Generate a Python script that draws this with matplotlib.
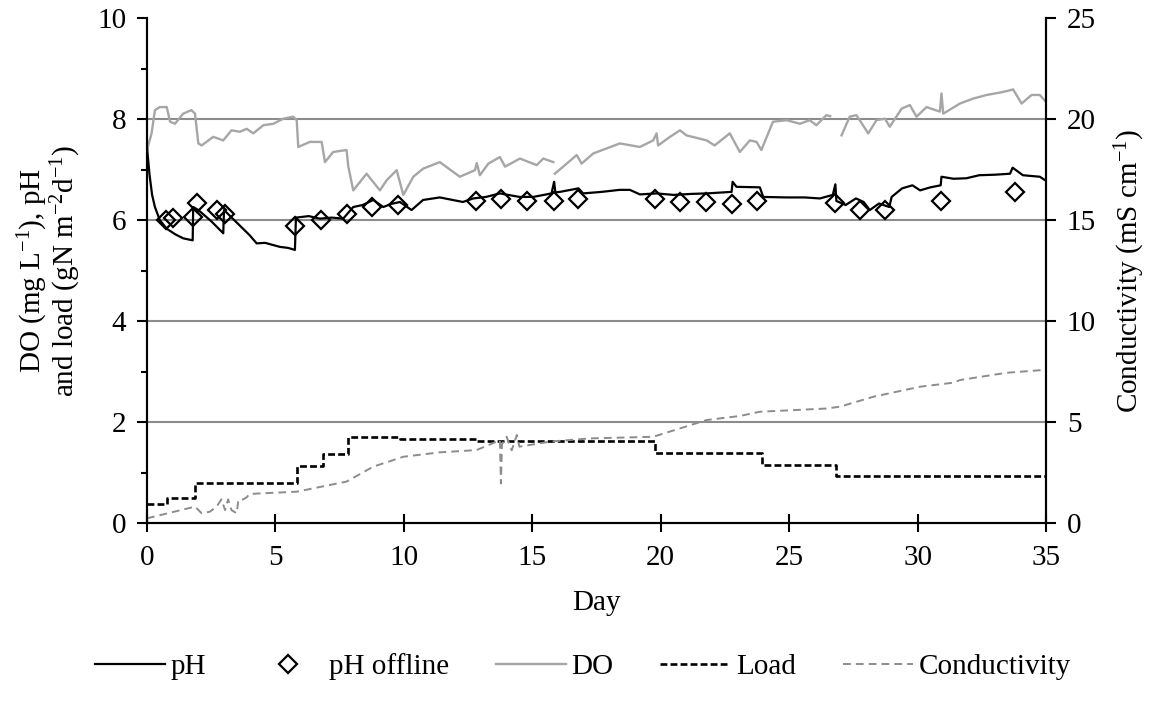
import numpy as np
import matplotlib
matplotlib.use('Agg')
import matplotlib.pyplot as plt
from matplotlib.lines import Line2D

plt.rcParams['font.family'] = ['Liberation Serif', 'DejaVu Serif']
plt.rcParams['mathtext.fontset'] = 'custom'
plt.rcParams['mathtext.rm'] = 'Liberation Serif'
plt.rcParams['mathtext.it'] = 'Liberation Serif:italic'
plt.rcParams['mathtext.default'] = 'regular'
plt.rcParams['font.size'] = 21

# pH online sensor
ph_day = [0, 0.1, 0.2, 0.31, 0.5, 0.77, 1.1, 1.41, 1.78, 1.80, 2.0, 2.5, 2.97, 3.0, 3.5,
          4.0, 4.27, 4.6, 5.18, 5.5, 5.76, 5.8, 6.3, 6.73, 7.2, 7.64, 8.03, 8.4, 8.81,
          9.2, 9.5, 9.85, 10.3, 10.75, 11.4, 12.3, 12.7, 13.2, 13.74, 14.5, 15.04,
          15.75, 15.85, 15.9, 16.08, 16.8, 16.98, 17.7, 18.4, 18.8, 19.19, 19.84, 20.5,
          21.2, 21.8, 22.76, 22.8, 22.95, 23.86, 23.99, 24.9, 25.6, 26.2, 26.7, 26.8,
          26.84, 27.2, 27.6, 27.9, 28.14, 28.5, 28.9, 28.99, 29.4, 29.8, 30.1, 30.5,
          30.9, 30.93, 31.4, 31.9, 32.4, 33.0, 33.6, 33.7, 34.1, 34.76, 35.0]
ph_val = [7.45, 6.9, 6.5, 6.26, 6.0, 5.83, 5.72, 5.64, 5.60, 6.26, 6.2, 5.98, 5.74, 6.2, 5.95,
          5.7, 5.54, 5.55, 5.47, 5.45, 5.41, 6.05, 6.08, 6.03, 6.05, 6.03, 6.26, 6.3, 6.4,
          6.26, 6.32, 6.36, 6.2, 6.4, 6.45, 6.36, 6.43, 6.46, 6.53, 6.46, 6.46,
          6.53, 6.76, 6.55, 6.56, 6.63, 6.53, 6.56, 6.6, 6.6, 6.51, 6.53, 6.5,
          6.52, 6.53, 6.56, 6.76, 6.66, 6.65, 6.46, 6.45, 6.45, 6.43, 6.5, 6.71,
          6.38, 6.3, 6.43, 6.36, 6.2, 6.33, 6.26, 6.46, 6.63, 6.69, 6.59, 6.65,
          6.69, 6.86, 6.82, 6.83, 6.89, 6.9, 6.92, 7.04, 6.89, 6.86, 6.78]

# pH offline samples
off_day = [0.74, 1.02, 1.78, 1.96, 2.74, 3.04, 5.77, 6.76, 7.8, 8.75, 9.76, 12.8, 13.77,
           14.78, 15.84, 16.79, 19.77, 20.75, 21.76, 22.76, 23.76, 26.77, 27.75, 28.74,
           30.92, 33.79]
off_val = [6.01, 6.05, 6.07, 6.33, 6.21, 6.12, 5.88, 6.01, 6.13, 6.26, 6.31, 6.38, 6.41,
           6.38, 6.38, 6.41, 6.41, 6.35, 6.35, 6.32, 6.38, 6.34, 6.21, 6.21, 6.37, 6.55]

# dissolved oxygen (gaps where the probe was offline)
do_day = [0, 0.18, 0.31, 0.5, 0.77, 0.9, 1.09, 1.41, 1.73, 1.87, 2.0, 2.13, 2.58, 2.97,
          3.29, 3.62, 3.88, 4.14, 4.53, 4.92, 5.31, 5.69, 5.83, 5.89, 6.34, 6.8, 6.93,
          7.25, 7.77, 7.84, 8.03, 8.55, 9.07, 9.33, 9.72, 9.98, 10.37, 10.75, 11.4,
          12.18, 12.77, 12.84, 12.96, 13.29, 13.74, 13.94, 14.52, 15.17, 15.43, 15.82,
          15.85, 15.88, 16.34, 16.73, 16.92, 17.37, 18.41, 19.19, 19.71, 19.84, 19.9,
          20.36, 20.75, 21.0, 21.79, 22.1, 22.69, 23.08, 23.47, 23.73, 23.92, 24.37,
          24.9, 25.42, 25.8, 26.06, 26.45, 26.6, 26.8, 27.04, 27.36, 27.62, 28.08, 28.4,
          28.73, 28.92, 29.38, 29.7, 29.96, 30.35, 30.87, 30.93, 31.0, 31.65, 32.17,
          32.69, 33.33, 33.72, 34.05, 34.44, 34.76, 35.0]
do_val = [7.39, 7.72, 8.18, 8.24, 8.24, 7.95, 7.91, 8.11, 8.18, 8.11, 7.52, 7.48, 7.65, 7.58,
          7.78, 7.75, 7.81, 7.72, 7.88, 7.91, 8.01, 8.05, 7.98, 7.45, 7.55, 7.55, 7.15,
          7.35, 7.39, 7.06, 6.59, 6.92, 6.59, 6.79, 6.99, 6.5, 6.86, 7.02, 7.15,
          6.86, 6.99, 7.13, 6.89, 7.12, 7.25, 7.06, 7.22, 7.09, 7.22, 7.15,
          np.nan, 6.92, 7.12, 7.29, 7.12, 7.32, 7.52, 7.45, 7.58, 7.72, 7.48,
          7.65, 7.78, 7.68, 7.58, 7.48, 7.72, 7.35, 7.58, 7.55, 7.39, 7.95,
          7.98, 7.91, 7.98, 7.88, 8.08, 8.06, np.nan, 7.68, 8.05, 8.08, 7.72, 7.98,
          8.01, 7.85, 8.21, 8.28, 8.05, 8.24, 8.15, 8.51, 8.11, 8.31, 8.41,
          8.48, 8.54, 8.59, 8.31, 8.48, 8.48, 8.34]

# nitrogen load steps
load_day = [0, 0.79, 1.87, 5.83, 6.86, 7.84, 9.85, 12.8, 19.77, 23.96, 26.84, 35]
load_val = [0.376, 0.50, 0.80, 1.13, 1.37, 1.71, 1.67, 1.63, 1.38, 1.15, 0.93, 0.93]

# conductivity (right axis)
cond_day = [0, 1.87, 2.13, 2.45, 2.71, 2.9, 3.04, 3.16, 3.29, 3.49, 3.56, 3.75, 3.88, 4.0,
            5.83, 7.77, 8.81, 9.98, 11.4, 12.83, 13.74, 13.78, 13.82, 14.0, 14.2, 14.4,
            14.5, 15.69, 17.24, 19.71, 21.79, 23.08, 23.86, 26.45, 26.98, 28.27, 30.1,
            31.4, 31.65, 33.46, 34.8]
cond_val = [0.23, 0.81, 0.48, 0.56, 0.81, 1.17, 0.64, 1.17, 0.64, 0.48, 1.14, 1.17, 1.27, 1.44,
            1.55, 2.05, 2.79, 3.28, 3.5, 3.61, 4.1, 1.96, 3.9, 4.27, 3.6, 4.36,
            3.78, 4.03, 4.19, 4.27, 5.1, 5.3, 5.51, 5.67, 5.76, 6.25, 6.75,
            6.95, 7.08, 7.44, 7.57]

fig = plt.figure(figsize=(11.59, 7.02), dpi=100)
ax = fig.add_axes([0.1268, 0.255, 0.7757, 0.719])
ax2 = ax.twinx()

grid_c = '#8c8c8c'
for v in [2, 4, 6, 8]:
    ax.axhline(v, color=grid_c, lw=1.5, zorder=0)

ax.plot(do_day, do_val, color='#a6a6a6', lw=1.7, zorder=2)
ax.plot(ph_day, ph_val, color='black', lw=1.6, zorder=3)
ax.plot(off_day, off_val, ls='none', marker='D', ms=9, mfc='none', mec='black',
        mew=1.6, zorder=4)
ax.plot(load_day, load_val, color='black', lw=1.9, drawstyle='steps-post',
        dashes=(2.6, 1.2), zorder=3)
ax2.plot(cond_day, cond_val, color='#8c8c8c', lw=1.4, dashes=(4, 2.6), zorder=2)

ax.set_xlim(0, 35)
ax.set_ylim(0, 10)
ax2.set_ylim(0, 25)
ax.set_xticks(range(0, 36, 5))
ax.set_yticks(range(0, 11, 2))
ax.set_yticks(range(1, 10, 2), minor=True)
ax2.set_yticks(range(0, 26, 5))

for a in (ax, ax2):
    a.spines['top'].set_visible(False)
    for s in a.spines.values():
        s.set_linewidth(1.5)
ax.tick_params(axis='x', direction='inout', length=13, width=1.5, pad=9)
ax.tick_params(axis='y', which='major', direction='out', length=7, width=1.5, pad=8)
ax.tick_params(axis='y', which='minor', direction='out', length=4, width=1.5)
ax2.tick_params(axis='y', direction='out', length=7, width=1.5, pad=8)

ax.set_xlabel('Day', labelpad=14)
ax.set_ylabel('DO (mg $L^{-1}$), pH\nand load (gN $m^{-2}d^{-1}$)', labelpad=10,
              linespacing=0.95)
ax2.set_ylabel('Conductivity (mS $cm^{-1}$)', labelpad=12)

handles = [
    Line2D([], [], color='black', lw=1.6),
    Line2D([], [], ls='none', marker='D', ms=9, mfc='none', mec='black', mew=1.6),
    Line2D([], [], color='#a6a6a6', lw=1.7),
    Line2D([], [], color='black', lw=1.9, dashes=(2.6, 1.2)),
    Line2D([], [], color='#8c8c8c', lw=1.4, dashes=(4, 2.6)),
]
labels = ['pH', 'pH offline', 'DO', 'Load', 'Conductivity']
fig.legend(handles, labels, loc='center', bbox_to_anchor=(0.503, 0.05), ncol=5,
           frameon=False, handlelength=2.4, handletextpad=0.2, columnspacing=1.6)

fig.savefig('out.png', dpi=100)
